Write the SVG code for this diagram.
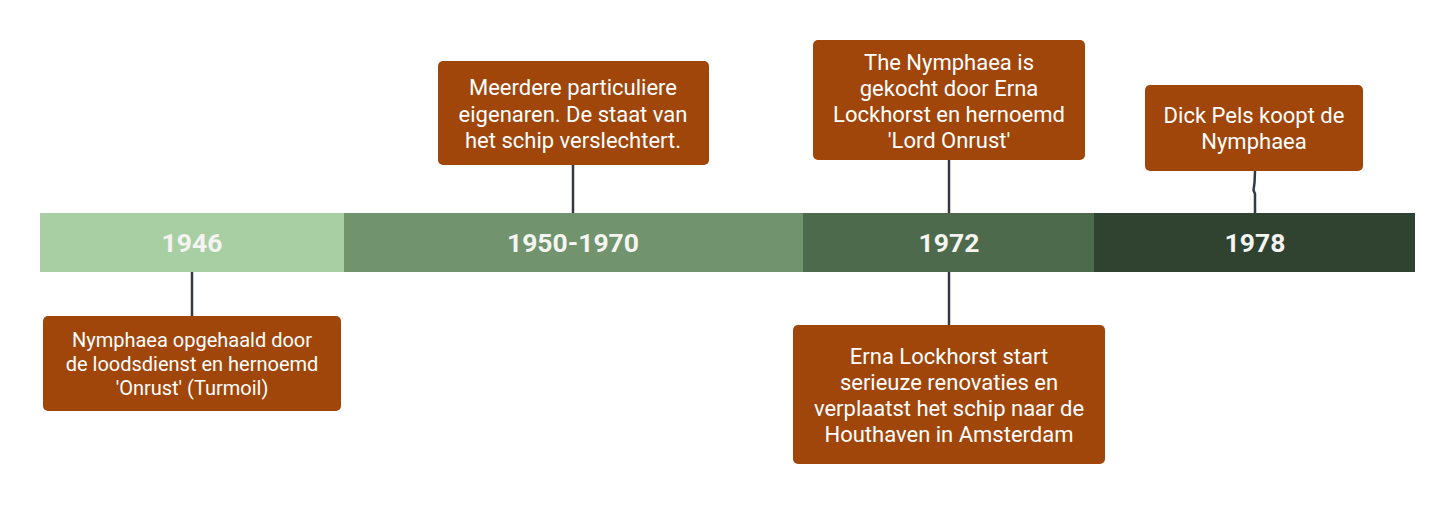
<svg xmlns="http://www.w3.org/2000/svg" width="1455" height="505" viewBox="0 0 1455 505">
<style>
.box{fill:#a0460a;}
.t{font-family:Roboto,"Liberation Sans",sans-serif;fill:#fff;text-anchor:middle;font-size:22px;}
.y{font-family:Roboto,"Liberation Sans",sans-serif;fill:#f4f4f0;text-anchor:middle;font-size:26.5px;font-weight:bold;}
.c{stroke:#343a44;stroke-width:2.5;fill:none;}
</style>
<rect width="1455" height="505" fill="#fff"/>
<g id="connectors">
<line class="c" x1="192" y1="272" x2="192" y2="316"/>
<line class="c" x1="573" y1="165" x2="573" y2="213"/>
<line class="c" x1="949" y1="160" x2="949" y2="213"/>
<line class="c" x1="949" y1="272" x2="949" y2="325"/>
<polyline class="c" points="1255,171 1254.5,183 1253.5,190 1255,194 1255,213"/>
</g>
<g id="timeline">
<g id="y1946"><rect x="40" y="213" width="304" height="59" fill="#a8cfa4"/><text class="y" x="192" y="252">1946</text></g>
<g id="y1950"><rect x="344" y="213" width="459" height="59" fill="#71936e"/><text class="y" x="573" y="252">1950-1970</text></g>
<g id="y1972"><rect x="803" y="213" width="291" height="59" fill="#4e6a4d"/><text class="y" x="949" y="252">1972</text></g>
<g id="y1978"><rect x="1094" y="213" width="321" height="59" fill="#304230"/><text class="y" x="1255" y="252">1978</text></g>
</g>
<g id="n1"><rect class="box" x="43" y="316" width="298" height="95" rx="5"/>
<text class="t" style="font-size:20px"><tspan x="192" y="346.5">Nymphaea opgehaald door</tspan><tspan x="192" y="370.5">de loodsdienst en hernoemd</tspan><tspan x="192" y="394.5">'Onrust' (Turmoil)</tspan></text></g>
<g id="n2"><rect class="box" x="438" y="61" width="271" height="104" rx="5"/>
<text class="t"><tspan x="573" y="95">Meerdere particuliere</tspan><tspan x="573" y="121.5">eigenaren. De staat van</tspan><tspan x="573" y="148">het schip verslechtert.</tspan></text></g>
<g id="n3"><rect class="box" x="813" y="40" width="272" height="120" rx="5"/>
<text class="t"><tspan x="949" y="69.5">The Nymphaea is</tspan><tspan x="949" y="95.5">gekocht door Erna</tspan><tspan x="949" y="121.5">Lockhorst en hernoemd</tspan><tspan x="949" y="147.5">'Lord Onrust'</tspan></text></g>
<g id="n4"><rect class="box" x="793" y="325" width="312" height="139" rx="5"/>
<text class="t"><tspan x="949" y="364">Erna Lockhorst start</tspan><tspan x="949" y="390">serieuze renovaties en</tspan><tspan x="949" y="416">verplaatst het schip naar de</tspan><tspan x="949" y="442">Houthaven in Amsterdam</tspan></text></g>
<g id="n5"><rect class="box" x="1145" y="85" width="218" height="86" rx="5"/>
<text class="t"><tspan x="1254" y="123">Dick Pels koopt de</tspan><tspan x="1254" y="149">Nymphaea</tspan></text></g>
</svg>
